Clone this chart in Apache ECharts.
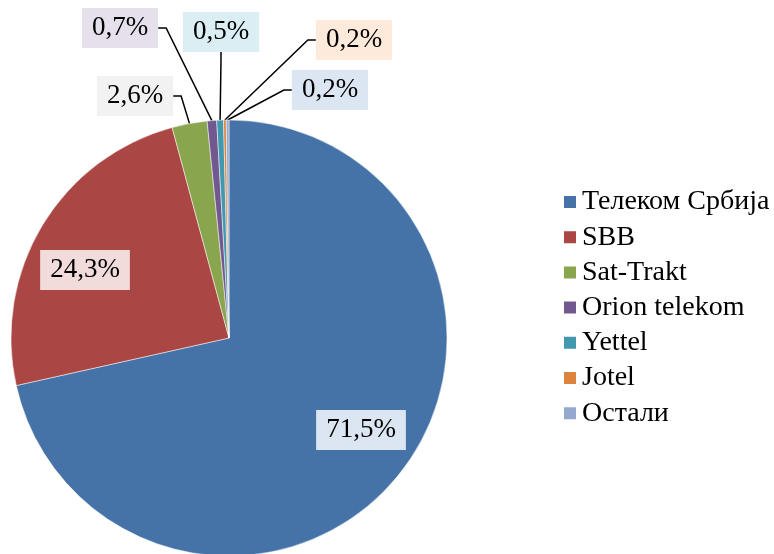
<!DOCTYPE html>
<html>
<head>
<meta charset="utf-8">
<script src="https://cdn.jsdelivr.net/npm/echarts@6/dist/echarts.min.js"></script>
<style>
  html, body { margin: 0; padding: 0; background: #fff; }
  #chart { width: 774px; height: 554px; }
</style>
</head>
<body>
<div id="chart"></div>
<script>
const operators = ["Телеком Србија", "SBB", "Sat-Trakt", "Orion telekom", "Yettel", "Jotel", "Остали"];
const shares = [71.5, 24.3, 2.6, 0.7, 0.5, 0.2, 0.2];
const colors = ["#4572A7", "#AA4643", "#89A54E", "#71588F", "#4198AF", "#DB843D", "#93A9CF"];
const labelBg = ["#DCE6F2", "#F2DCDB", "#F2F2F2", "#E6E0EC", "#DBEEF4", "#FDEADA", "#DCE6F2"];
// where each value box sits (box centre), as in the original
const labelSpots = [[361, 430], [85, 270], [135, 96], [120, 28], [221, 32], [354, 40], [330, 90]];

const font = "'Liberation Serif', 'DejaVu Serif', serif";

const myChart = echarts.init(document.getElementById("chart"));
const option = {
    animation: false,
    color: colors,
    legend: {
        orient: 'vertical',
        left: 562,
        top: 187,
        padding: 0,
        itemWidth: 14,
        itemHeight: 14,
        itemGap: 5.2,
        icon: 'rect',
        textStyle: { fontFamily: font, fontSize: 28, color: '#000', lineHeight: 30 },
        data: operators
    },
    series: [{
        type: 'pie',
        center: [229, 338],
        radius: 218,
        startAngle: 90,
        clockwise: true,
        avoidLabelOverlap: false,
        itemStyle: { borderColor: '#fff', borderWidth: 0.5 },
        label: {
            show: true,
            position: 'outside',
            formatter: p => p.value.toFixed(1).replace('.', ',') + '%',
            fontFamily: font,
            fontSize: 27,
            lineHeight: 26,
            color: '#000',
            padding: [7, 10]
        },
        labelLine: {
            show: true,
            length: 8,
            length2: 8,
            smooth: false,
            lineStyle: { color: '#000', width: 1.5 }
        },
        labelLayout: p => ({
            x: labelSpots[p.dataIndex][0],
            y: labelSpots[p.dataIndex][1],
            align: 'center',
            verticalAlign: 'middle'
        }),
        data: operators.map((name, i) => ({
            name: name,
            value: shares[i],
            label: { backgroundColor: labelBg[i] },
            labelLine: { show: i > 1 }
        }))
    }]
};
myChart.setOption(option);
</script>
</body>
</html>
